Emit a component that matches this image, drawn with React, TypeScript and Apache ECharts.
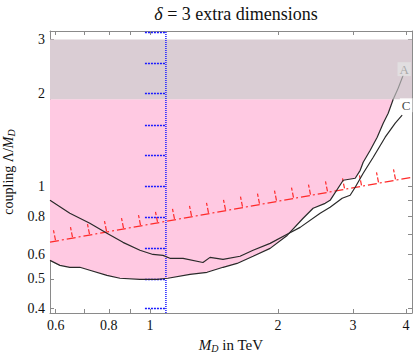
import React, { useEffect, useRef } from 'react';
import * as echarts from 'echarts';

const xTicks = [0.6, 0.7, 0.8, 0.9, 1, 2, 3, 4];
const xLabels = [0.6, 0.8, 1, 2, 3, 4];
const yTicks = [0.4, 0.5, 0.6, 0.7, 0.8, 0.9, 1, 2, 3];
const yLabels = [0.4, 0.5, 0.6, 0.8, 1, 2, 3];
const xRange = [0.582, 4.13];
const yRange = [0.387, 3.2];

// curve A (lower-left, pink boundary)
const curveA = [
  [0.582, 0.574], [0.614, 0.553], [0.648, 0.545], [0.684, 0.545], [0.722, 0.533],
  [0.792, 0.513], [0.85, 0.502], [0.947, 0.498], [1.039, 0.498], [1.102, 0.502],
  [1.242, 0.517], [1.362, 0.525], [1.485, 0.545], [1.602, 0.561], [1.747, 0.592],
  [1.916, 0.628], [2.101, 0.692], [2.291, 0.787], [2.418, 0.848], [2.581, 0.88],
  [2.651, 0.9], [2.846, 1.046], [3.037, 1.062], [3.12, 1.127], [3.171, 1.197],
  [3.294, 1.31], [3.421, 1.444], [3.534, 1.604], [3.631, 1.729], [3.731, 1.92],
];
// continuation of curve A inside the grey band
const curveAUpper = [[3.731, 1.92], [3.833, 2.086], [3.938, 2.299]];
// curve C (upper-left)
const curveC = [
  [0.582, 0.9], [0.648, 0.817], [0.722, 0.758], [0.792, 0.703], [0.864, 0.657],
  [0.947, 0.619], [1.016, 0.6], [1.073, 0.596], [1.114, 0.583], [1.196, 0.583],
  [1.332, 0.565], [1.384, 0.587], [1.485, 0.578], [1.628, 0.592], [1.747, 0.619],
  [1.916, 0.652], [2.101, 0.698], [2.254, 0.735], [2.512, 0.817], [2.651, 0.854],
  [2.83, 0.914], [2.955, 0.935], [3.037, 0.993], [3.171, 1.102], [3.348, 1.243],
  [3.572, 1.444], [3.772, 1.604], [3.916, 1.703],
];
const redLine = [[0.582, 0.658], [4.13, 1.07]];
const blueLimit = 1.09;
const blueHatchStart = 0.973;
const blueHatchY = [0.4, 0.5, 0.63, 0.79, 1, 1.26, 1.58, 2, 2.51, 3.16];
const greyBand = [1.92, 3.0];

const L = (v: number) => Math.log10(v);
const FONT = 'Liberation Serif';
const PINK = '#ffc9e2';
const GREY = '#dacdd4';

const fmt = (v: number) => String(parseFloat(Math.pow(10, v).toPrecision(2)));

export default function App() {
  const ref = useRef<HTMLDivElement>(null);
  useEffect(() => {
    if (!ref.current) return;
    const chart = echarts.init(ref.current, null, { renderer: 'svg' });
    const axisCommon = {
      type: 'value',
      axisLine: { show: true, onZero: false, lineStyle: { color: '#8a8a8a', width: 1 } },
      splitLine: { show: false },
    };
    const xMin = L(xRange[0]);
    const xMax = L(xRange[1]);
    const yMin = L(yRange[0]);
    const yMax = L(yRange[1]);
    const toLog = (arr: number[][]) => arr.map((p) => [L(p[0]), L(p[1])]);
    const nameRich = (size: number) => ({
      i: { fontFamily: FONT, fontSize: size, fontStyle: 'italic', color: '#111' },
      s: { fontFamily: FONT, fontSize: Math.round(size * 0.68), fontStyle: 'italic', color: '#111', verticalAlign: 'bottom', padding: [6, 0, 0, 0] },
    });

    const option: any = {
      animation: false,
      title: {
        text: '{i|δ} = 3 extra dimensions',
        left: 231,
        top: 0,
        textAlign: 'center',
        textStyle: {
          fontFamily: FONT, fontSize: 18, fontWeight: 'normal', color: '#111',
          rich: { i: { fontFamily: FONT, fontSize: 18, fontStyle: 'italic', color: '#111' } },
        },
      },
      grid: { left: 50, right: 5, top: 31, bottom: 39, containLabel: false, outerBoundsMode: 'none' },
      xAxis: [
        {
          ...axisCommon, min: xMin, max: xMax, position: 'bottom',
          axisTick: { show: true, inside: true, length: 4, lineStyle: { color: '#8a8a8a' }, customValues: xTicks.map(L) },
          axisLabel: { show: true, customValues: xLabels.map(L), formatter: fmt, fontFamily: FONT, fontSize: 14, color: '#111', margin: 5 },
          name: '{i|M}{s|D} in TeV', nameLocation: 'middle', nameGap: 24,
          nameTextStyle: { fontFamily: FONT, fontSize: 15, color: '#111', rich: nameRich(15) },
        },
        {
          ...axisCommon, min: xMin, max: xMax, position: 'top',
          axisTick: { show: true, inside: true, length: 4, lineStyle: { color: '#8a8a8a' }, customValues: xTicks.map(L) },
          axisLabel: { show: false },
        },
      ],
      yAxis: [
        {
          ...axisCommon, min: yMin, max: yMax, position: 'left',
          axisTick: { show: true, inside: true, length: 4, lineStyle: { color: '#8a8a8a' }, customValues: yTicks.map(L) },
          axisLabel: { show: true, customValues: yLabels.map(L), formatter: fmt, fontFamily: FONT, fontSize: 14, color: '#111', margin: 5 },
          name: 'coupling Λ/{i|M}{s|D}', nameLocation: 'middle', nameGap: 32,
          nameTextStyle: { fontFamily: FONT, fontSize: 14, color: '#111', rich: nameRich(14) },
        },
        {
          ...axisCommon, min: yMin, max: yMax, position: 'right',
          axisTick: { show: true, inside: true, length: 4, lineStyle: { color: '#8a8a8a' }, customValues: yTicks.map(L) },
          axisLabel: { show: false },
        },
      ],
      series: [
        {
          type: 'custom', silent: true, z: 1,
          data: [[xMin, yMin]],
          renderItem: (params: any, api: any) => {
            const pts = curveA.map((p) => api.coord([L(p[0]), L(p[1])]));
            const last = curveA[curveA.length - 1];
            pts.push(api.coord([L(last[0]), L(greyBand[0])]));
            pts.push(api.coord([xMin, L(greyBand[0])]));
            pts.push(api.coord([xMin, L(curveA[0][1])]));
            const g0 = api.coord([xMin, L(greyBand[1])]);
            const g1 = api.coord([xMax, L(greyBand[0])]);
            return {
              type: 'group',
              children: [
                { type: 'polygon', shape: { points: pts }, style: { fill: PINK } },
                { type: 'rect', shape: { x: g0[0], y: g0[1], width: g1[0] - g0[0], height: g1[1] - g0[1] }, style: { fill: GREY } },
              ],
            };
          },
        },
        {
          type: 'line', z: 3, symbol: 'none', silent: true,
          data: [[L(blueLimit), yMin], [L(blueLimit), yMax]],
          lineStyle: { color: '#1a1aff', width: 1.5, type: [1, 1] },
          markLine: {
            silent: true, symbol: 'none', label: { show: false },
            lineStyle: { color: '#1a1aff', width: 1.3, type: [2, 1] },
            data: blueHatchY.map((y) => [
              { coord: [L(blueHatchStart), L(y)] },
              { coord: [L(blueLimit), L(y)] },
            ]),
          },
        },
        {
          type: 'line', z: 4, symbol: 'none', silent: true,
          data: toLog(redLine),
          lineStyle: { color: '#ff2a2a', width: 1.2, type: [9, 3, 2, 3] },
        },
        {
          type: 'custom', silent: true, z: 4,
          data: [[xMin, yMin]],
          renderItem: (params: any, api: any) => {
            const p0 = api.coord([L(redLine[0][0]), L(redLine[0][1])]);
            const p1 = api.coord([L(redLine[1][0]), L(redLine[1][1])]);
            const children: any[] = [];
            const slope = (p1[1] - p0[1]) / (p1[0] - p0[0]);
            for (let x = p0[0] + 5; x < p1[0] - 2; x += 17) {
              const y = p0[1] + slope * (x - p0[0]);
              children.push({
                type: 'line',
                shape: { x1: x + 0.5, y1: y - 1, x2: x - 1.5, y2: y - 11 },
                style: { stroke: '#ff2a2a', lineWidth: 1.2, lineDash: [5, 2] },
              });
            }
            return { type: 'group', children };
          },
        },
        {
          type: 'line', z: 5, symbol: 'none', silent: true,
          data: toLog(curveA),
          lineStyle: { color: '#2a2a2a', width: 1.2 },
        },
        {
          type: 'line', z: 5, symbol: 'none', silent: true,
          data: toLog(curveAUpper),
          lineStyle: { color: '#8f8f8f', width: 1.2 },
        },
        {
          type: 'line', z: 5, symbol: 'none', silent: true,
          data: toLog(curveC),
          lineStyle: { color: '#2a2a2a', width: 1.2 },
        },
        {
          type: 'scatter', z: 6, symbolSize: 0, silent: true,
          data: [
            {
              value: [L(curveAUpper[curveAUpper.length - 1][0]), L(curveAUpper[curveAUpper.length - 1][1])],
              label: { show: true, position: 'inside', offset: [1, -6], formatter: 'A', color: '#9a9a9a', backgroundColor: '#e2e2e2', padding: [1, 2, 0, 2], fontFamily: FONT, fontSize: 13 },
            },
            {
              value: [L(curveC[curveC.length - 1][0]), L(curveC[curveC.length - 1][1])],
              label: { show: true, position: 'inside', offset: [4, -10], formatter: 'C', color: '#111', backgroundColor: '#ffffff', padding: [1, 2, 0, 2], fontFamily: FONT, fontSize: 13 },
            },
          ],
        },
      ],
    };
    chart.setOption(option);
    return () => chart.dispose();
  }, []);
  return <div ref={ref} style={{ position: 'absolute', left: 0, top: 0, width: 417, height: 352 }} />;
}
